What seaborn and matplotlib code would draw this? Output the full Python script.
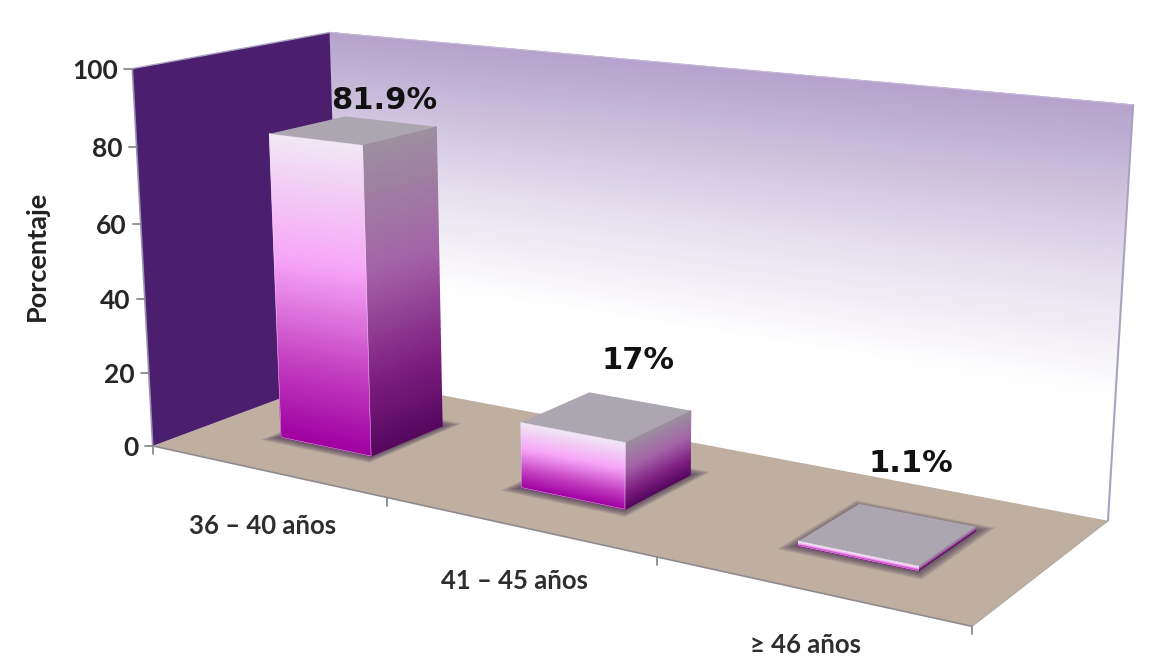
import numpy as np
import matplotlib
matplotlib.use("Agg")
import matplotlib.pyplot as plt
from matplotlib.colors import LinearSegmentedColormap as LSC
from matplotlib.patches import Polygon
from matplotlib.transforms import Transform
import seaborn as sns

categories = ["36 – 40 años", "41 – 45 años", "≥ 46 años"]
cat_index = [0, 1, 2]
values = [81.9, 17.0, 1.1]
value_labels = ["81.9%", "17%", "1.1%"]
y_ticks = [0, 20, 40, 60, 80, 100]
y_title = "Porcentaje"

# camera calibration (x category units, depth, height) -> pixels
WORLD = np.array([[-.5,0,0],[-.5,0,100],[-.5,1,0],[-.5,1,100],[2.5,1,0],[2.5,1,100],[2.5,0,0]],float)
PIX = np.array([[153,445],[132,69],[340,377],[330,32],[1108,520],[1133,105],[972,627]],float)
A=[]
for (x,d,h),(X,Y) in zip(WORLD,PIX):
    A.append([x,d,h,1,0,0,0,0,-X*x,-X*d,-X*h,-X])
    A.append([0,0,0,0,x,d,h,1,-Y*x,-Y*d,-Y*h,-Y])
P=np.linalg.svd(np.array(A))[2][-1].reshape(3,4)

def project(x,d,h):
    x,d,h=np.broadcast_arrays(np.asarray(x,float),np.asarray(d,float),np.asarray(h,float))
    w=P[2,0]*x+P[2,1]*d+P[2,2]*h+P[2,3]
    return (P[0,0]*x+P[0,1]*d+P[0,2]*h+P[0,3])/w,(P[1,0]*x+P[1,1]*d+P[1,2]*h+P[1,3])/w

BAR_W=0.39; D0=0.305; D1=0.70

class FrontFace(Transform):
    input_dims=output_dims=2
    has_inverse=False
    is_separable=False
    def transform_non_affine(self,v):
        v=np.asarray(v,float)
        X,Y=project(v[:,0],D0,v[:,1])
        return np.column_stack([X,Y])

sns.set_theme(style="white")
plt.rcParams["font.family"]=["Lato","DejaVu Sans"]
fig=plt.figure(figsize=(11.54,6.68),dpi=100,facecolor="white")
ax=fig.add_axes([0,0,1,1])
sns.barplot(x=cat_index,y=values,native_scale=True,width=BAR_W,color="#C040C0",ax=ax,zorder=8)
bars=list(ax.patches)
ax.set_xlim(0,1154); ax.set_ylim(668,0); ax.axis("off")
ax.set_autoscale_on(False)

def poly(x,d,h,**k):
    X,Y=project(x,d,h)
    ax.add_patch(Polygon(np.column_stack([X,Y]),closed=True,**k))

wall=LSC.from_list("w",[(0,"#FFFFFF"),(.3,"#FFFFFF"),(.6,"#E6DFEE"),(1,"#B5A3CD")])
front=LSC.from_list("f",[(0,"#A000A0"),(.25,"#C23CC0"),(.6,"#F7A6F8"),(1,"#F0E8F4")])
side=LSC.from_list("s",[(0,"#55085E"),(.25,"#7E1F80"),(.6,"#A463A8"),(1,"#9C909F")])

def face(x,d,h,c,cmap,z):
    X,Y=project(x,d,h)
    ax.pcolormesh(X,Y,c,shading="gouraud",cmap=cmap,vmin=0,vmax=1,zorder=z)

hh=np.linspace(0,100,60)[:,None]
xx=np.array([[-.5,2.5]])
face(xx,1.0,hh,np.broadcast_to(hh/100,(60,2)),wall,1)
poly([-.5,2.5,2.5,-.5],[0,0,1,1],0,fc="#BEAFA1",ec="none",zorder=2)
poly([-.5,-.5,-.5,-.5],[0,1,1,0],[0,0,100,100],fc="#4B1F6E",ec="none",zorder=3)

def line(x,d,h,**k):
    X,Y=project(x,d,h); ax.plot(X,Y,**k)
line([2.5,2.5],1,[0,100],color="#A9A3C2",lw=1.5,zorder=3)
line([-.5,2.5],1,100,color="#C4B6D8",lw=.8,zorder=3)
line([-.5,2.5],0,0,color="#8F8A8E",lw=1.2,zorder=4)
line([2.5,2.5],[0,1],0,color="#B5AAA0",lw=1,zorder=4)
line([-.5,-.5],0,[0,100],color="#9A8FB0",lw=1.2,zorder=4)
line([-.5,-.5],[0,1],100,color="#A9A3C2",lw=1,zorder=4)

for t in y_ticks:
    X,Y=project(-.5,0,t)
    ax.plot([X-8,X],[Y,Y],color="#8A8A8A",lw=1.3,zorder=4)
    ax.text(X-14,Y,str(t),ha="right",va="center_baseline",fontsize=19,fontweight="bold",color="#262626",zorder=9)
for b in [-.5,.5,1.5,2.5]:
    X,Y=project(b,0,0)
    ax.plot([X,X],[Y,Y+8],color="#8A8A8A",lw=1.3,zorder=4)
for i,c in enumerate(categories):
    X,Y=project(i,0,0)
    ax.text(X-3,Y+55,c,ha="center",va="center",fontsize=18.5,fontweight="bold",color="#2E2E2E",zorder=9)
ax.text(37,256,y_title,rotation=90,ha="center",va="center",fontsize=19.5,fontweight="bold",color="#222222",zorder=9)

label_off=[(31,-30),(31,-56),(23,-70)]
for i,(bar,lab) in enumerate(zip(bars,value_labels)):
    x0=bar.get_x(); x1=x0+bar.get_width(); H=bar.get_height()
    for g in np.linspace(.04,.004,9):
        poly([x0-g,x1+g,x1+g,x0-g],[D0-g*1.5,D0-g*1.5,D1+g*1.5,D1+g*1.5],0,fc="#3E2A48",ec="none",alpha=.11,zorder=5)
    z=6+i*.01
    h=np.linspace(0,H,40)[:,None]
    c=np.broadcast_to(h/H,(40,2))
    face(np.array([[x1,x1]]),np.array([[D0,D1]]),h,c,side,z)
    face(np.array([[x0,x1]]),D0,h,c,front,z)
    poly([x0,x1,x1,x0],[D0,D0,D1,D1],H,fc="#ABA6B0",ec="none",zorder=z)
    bar.set_transform(FrontFace()+ax.transData)
    bar.set_facecolor("none"); bar.set_edgecolor("#E6D8EA"); bar.set_linewidth(.3); bar.set_clip_on(False)
    bar.set_zorder(z+.005)
    X,Y=project((x0+x1)/2,(D0+D1)/2,H)
    ax.text(X+label_off[i][0],Y+label_off[i][1],lab,ha="center",va="center",fontsize=22,fontweight="bold",
            family="DejaVu Sans",color="#111111",zorder=9)

fig.savefig("out.png",dpi=100,facecolor="white")
